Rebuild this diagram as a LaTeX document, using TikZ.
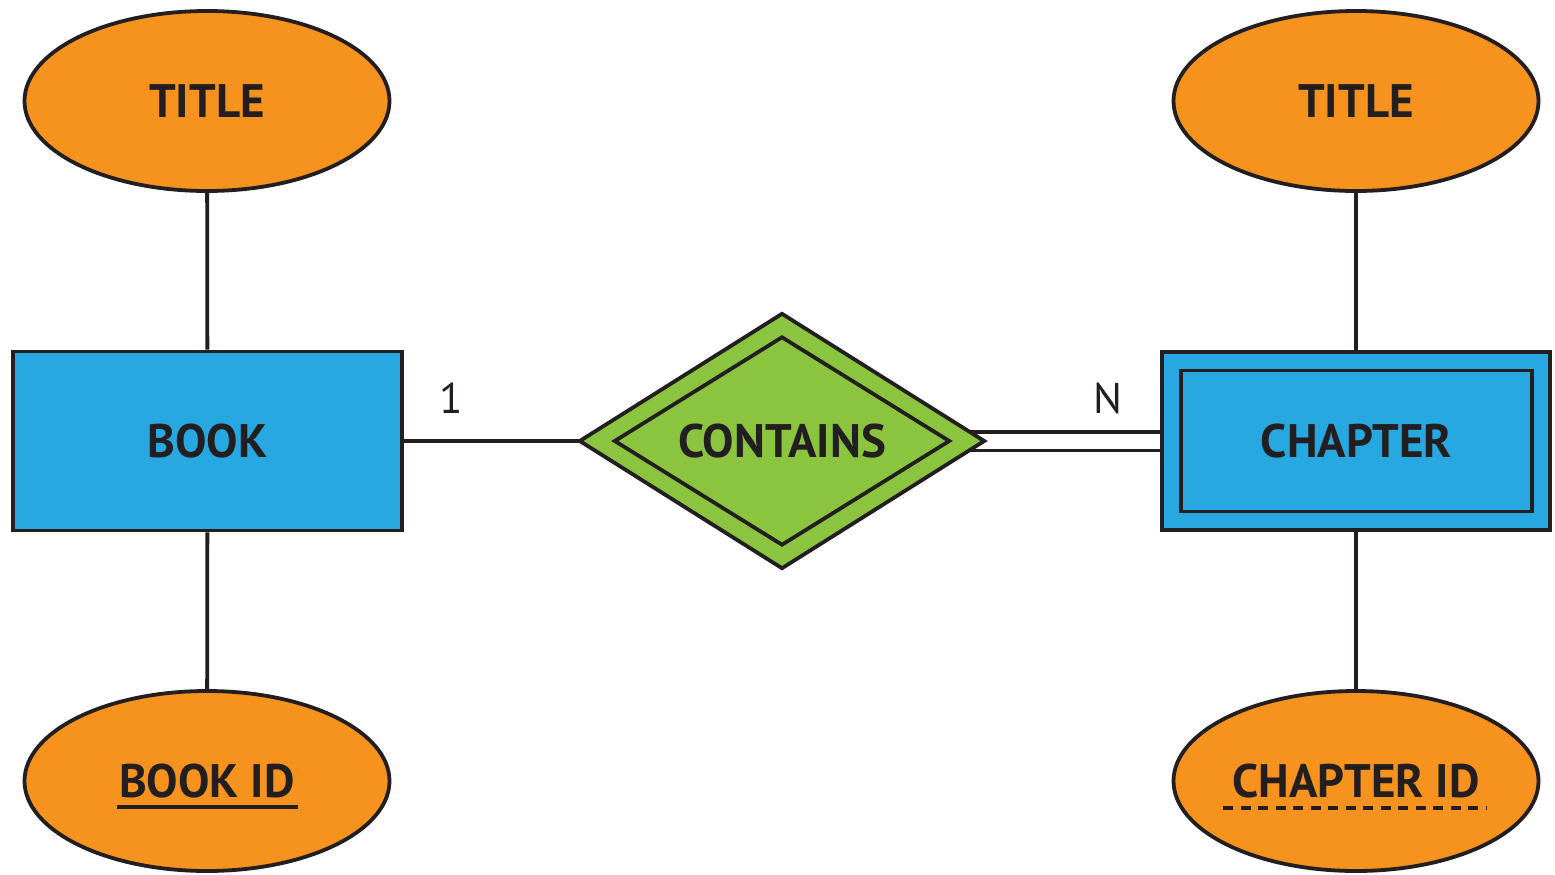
\documentclass[tikz,border=0pt]{standalone}
\usepackage{fontspec}
\setmainfont{PT Sans}
\usetikzlibrary{shapes.geometric,backgrounds}
\definecolor{erorange}{HTML}{F6921E}
\definecolor{erblue}{HTML}{27A8E0}
\definecolor{ergreen}{HTML}{8BC53F}
\definecolor{erink}{HTML}{231F20}
\newcommand\erbold{\fontsize{47}{52}\selectfont\bfseries\color{erink}}
\newcommand\erreg{\fontsize{43}{48}\selectfont\color{erink}}
\begin{document}
\begin{tikzpicture}[x=1pt,y=-1pt,line width=3.8pt,draw=erink,
  attr/.style={ellipse,draw=erink,fill=erorange,minimum width=365,minimum height=180,inner sep=0pt,font=\erbold},
  entity/.style={rectangle,draw=erink,fill=erblue,inner sep=0pt,font=\erbold},
  rel/.style={diamond,aspect=1.6,draw=erink,fill=ergreen,inner sep=0pt,font=\erbold},
  card/.style={inner sep=0pt,font=\erreg},
  link/.style={draw=erink,line width=3.8pt}]
\useasboundingbox (0,0) rectangle (1555,875);
% attributes
\node[attr] (t1) at (207,101) {TITLE};
\node[attr] (t2) at (1356,101) {TITLE};
\node[attr] (bid) at (207,781) {BOOK ID};
\node[attr] (cid) at (1356,781) {CHAPTER ID};
% entities
\node[entity,minimum width=389,minimum height=179] (book) at (207.5,441) {BOOK};
\node[entity,minimum width=388,minimum height=178] (chap) at (1356,441) {};
\node[entity,minimum width=351,minimum height=141] (chapin) at (1356.5,441) {CHAPTER};
% relationship
\node[rel,minimum width=406,minimum height=256] (cont) at (782,441) {};
\node[rel,minimum width=336,minimum height=209] (contin) at (782,441) {CONTAINS};
% cardinalities
\node[card] (one) at (451,398) {1};
\node[card] (n) at (1108,398) {N};
% key underlines
\draw[link] (117,807) -- (298,807);
\draw[link,line width=4.2pt,dash pattern=on 10pt off 7.5pt] (1223,808) -- (1487,808);
% connectors
\begin{pgfonlayer}{background}
\draw[link] (t1) -- (book);
\draw[link] (book) -- (bid);
\draw[link] (t2) -- (chap);
\draw[link] (chap) -- (cid);
\draw[link] (book.east) -- (cont.center);
\draw[link,double=white,double distance=15pt] (cont.center) -- (chap.west);
\end{pgfonlayer}
\end{tikzpicture}
\end{document}
